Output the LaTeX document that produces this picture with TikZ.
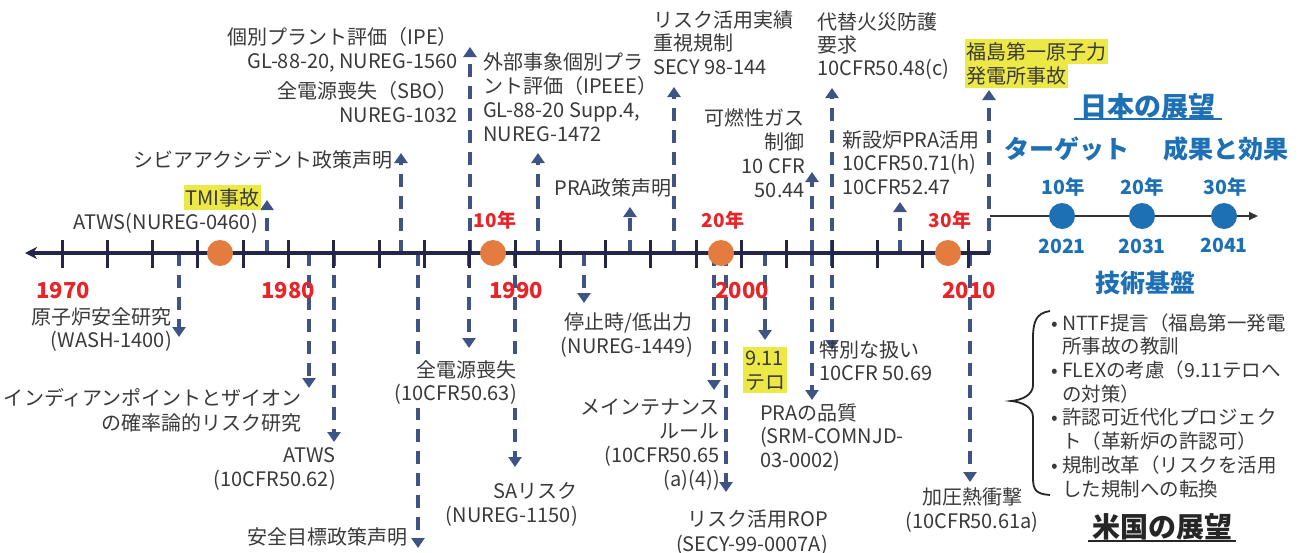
\documentclass[tikz,border=0pt]{standalone}
\usepackage{fontspec}
\setmainfont{Noto Sans CJK JP}
\usetikzlibrary{arrows.meta}
\definecolor{arrc}{RGB}{61,84,133}
\definecolor{axisc}{RGB}{35,38,72}
\definecolor{orng}{RGB}{228,124,63}
\definecolor{redc}{RGB}{233,36,40}
\definecolor{bluec}{RGB}{30,112,180}
\definecolor{hl}{RGB}{236,232,70}
\definecolor{txt}{RGB}{58,58,58}
\tikzset{
  darr/.style={draw=arrc, line width=4.3pt, dash pattern=on 13pt off 9pt, -{Triangle[width=13pt,length=10pt]}},
  lbl/.style={font=\fontsize{20}{24}\selectfont, text=txt, inner sep=0pt},
  lr/.style={lbl, align=right, anchor=base east},
  ll/.style={lbl, align=left, anchor=base west},
  lc/.style={lbl, align=center, anchor=base},
  hlbox/.style={fill=hl, inner xsep=1.5pt, inner ysep=3pt},
  redyr/.style={font=\fontsize{22}{26}\selectfont\bfseries, text=redc, inner sep=0pt},
  rednen/.style={font=\fontsize{19}{22}\selectfont\bfseries, text=redc, inner sep=0pt},
  bluet/.style={font=\fontsize{25}{30}\selectfont\bfseries, text=bluec, inner sep=0pt},
  bluesm/.style={font=\fontsize{19.5}{22}\selectfont\bfseries, text=bluec, inner sep=0pt},
  mtick/.style={draw=axisc, line width=3pt},
  odot/.style={circle, fill=orng, minimum size=26pt, inner sep=0pt},
  bdot/.style={circle, fill=bluec, minimum size=26pt, inner sep=0pt},
}
\begin{document}
\begin{tikzpicture}[x=1pt,y=-1pt]
\useasboundingbox (0,0) rectangle (1300,552);
\fill[white] (0,0) rectangle (1300,552);

% dashed arrows (up)
\foreach \n/\x/\y in {u1/267/200, u2/401/153, u3/470/47, u4/538/153, u5/630/207, u6/674/87, u7/812/172, u8/832/88, u9/900/202, u10/989/90}{
  \coordinate (\n a) at (\x,253);
  \coordinate (\n t) at (\x,\y);
  \draw[darr] (\n a) -- (\n t);
}
% dashed arrows (down)
\foreach \n/\x/\y in {d1/179/337, d2/309/388, d3/334/442, d4/418/548, d5/469/348, d6/515/467, d7/584/303, d8/714/390, d9/726/492, d10/765/340, d11/812/400, d12/832/350, d13/970/482}{
  \coordinate (\n a) at (\x,253);
  \coordinate (\n t) at (\x,\y);
  \draw[darr] (\n a) -- (\n t);
}

% main axis
\coordinate (axR) at (990,253);
\coordinate (axL) at (25,253);
\draw[axisc, line width=3.5pt, -{Stealth[length=12pt,width=12pt]}] (axR) -- (axL);
\foreach \k in {0,...,20}{
  \draw[mtick] ({62+\k*45.3},240) -- ({62+\k*45.3},268);
}
\node[odot] (c1) at (220,253) {};
\node[odot] (c2) at (493,253) {};
\node[odot] (c3) at (721,253) {};
\node[odot] (c4) at (948,253) {};

% year labels
\node[redyr] (y1970) at (63,291) {1970};
\node[redyr] (y1980) at (288,291) {1980};
\node[redyr] (y1990) at (516,291) {1990};
\node[redyr] (y2000) at (742,291) {2000};
\node[redyr] (y2010) at (969,291) {2010};
\node[rednen] (n10) at (495,220) {10年};
\node[rednen] (n20) at (723,220) {20年};
\node[rednen] (n30) at (950,220) {30年};

% upper labels (base = baseline of last line)
\node[lr, hlbox] (tmi) at (261,205) {TMI事故};
\node[lr] (atws1) at (258,229) {ATWS(NUREG-0460)};
\node[lr] (sapol) at (393,167) {シビアアクシデント政策声明};
\node[lr] (ipe) at (458,68) {個別プラント評価（IPE）\\GL-88-20, NUREG-1560};
\node[lr] (sbo) at (458,122) {全電源喪失（SBO）\\NUREG-1032};
\node[ll] (ipeee) at (483,141) {外部事象個別プラ\\ント評価（IPEEE）\\GL-88-20 Supp.4,\\NUREG-1472};
\node[lr] (prapol) at (672,195) {PRA政策声明};
\node[ll, font=\fontsize{20}{23.5}\selectfont] (secy) at (653,74) {リスク活用実績\\重視規制\\SECY 98-144};
\node[lr] (gas) at (805,197) {可燃性ガス\\制御\\10 CFR\\50.44};
\node[ll, font=\fontsize{20}{23}\selectfont] (fire) at (817,75) {代替火災防護\\要求\\10CFR50.48(c)};
\node[ll, font=\fontsize{20}{23.5}\selectfont] (newpra) at (842,194) {新設炉PRA活用\\10CFR50.71(h)\\10CFR52.47};
\node[ll, hlbox] (fk1) at (965,59) {福島第一原子力};
\node[ll, hlbox] (fk2) at (965,83) {発電所事故};

% lower labels
\node[lr, font=\fontsize{20}{23}\selectfont] (wash) at (172,347) {原子炉安全研究\\(WASH-1400)};
\node[lr, font=\fontsize{20}{25}\selectfont] (ip) at (302,430) {インディアンポイントとザイオン\\の確率論的リスク研究};
\node[lr] (atws2) at (336,486) {ATWS\\(10CFR50.62)};
\node[lr] (sgoal) at (408,544) {安全目標政策声明};
\node[lr, font=\fontsize{20}{23}\selectfont, fill=white, inner xsep=2pt, inner ysep=4pt] (sbo2) at (519,400) {全電源喪失\\(10CFR50.63)};
\node[lr] (sar) at (578,522) {SAリスク\\(NUREG-1150)};
\node[lr] (shut) at (693,353) {停止時/低出力\\(NUREG-1449)};
\node[lr, font=\fontsize{20}{23.7}\selectfont] (mr) at (720,486) {メインテナンス\\ルール\\(10CFR50.65\\(a)(4))};
\node[lr, font=\fontsize{20}{24.5}\selectfont] (rop) at (828,551) {リスク活用ROP\\(SECY-99-0007A)};
\node[ll, hlbox, inner xsep=2pt] (terr) at (743,389) {9.11\\テロ};
\node[ll, font=\fontsize{20}{23.5}\selectfont] (praq) at (760,467) {PRAの品質\\(SRM-COMNJD-\\03-0002)};
\node[ll, font=\fontsize{20}{23}\selectfont] (spec) at (819,380) {特別な扱い\\10CFR 50.69};
\node[lc] (pts) at (972,528) {加圧熱衝撃\\(10CFR50.61a)};

% right panel: Japan
\node[font=\fontsize{27}{32}\selectfont\bfseries, text=bluec, inner sep=0pt] (jp) at (1148,106) {日本の展望};
\draw[bluec, line width=2pt] ([xshift=-6pt]jp.south west) -- ([xshift=6pt]jp.south east);
\node[bluet] (tgt) at (1067,149) {ターゲット};
\node[bluet] (res) at (1226,149) {成果と効果};
\coordinate (jL) at (990,216);
\coordinate (jR) at (1258,216);
\draw[black!80, line width=2pt, -{Triangle[length=9pt,width=8pt]}] (jL) -- (jR);
\node[bdot] (b1) at (1062,216) {};
\node[bdot] (b2) at (1142,216) {};
\node[bdot] (b3) at (1224,216) {};
\node[bluesm] (b1t) at (1063,187) {10年};
\node[bluesm] (b2t) at (1142,187) {20年};
\node[bluesm] (b3t) at (1225,187) {30年};
\node[bluesm] (b1b) at (1062,246) {2021};
\node[bluesm] (b2b) at (1142,246) {2031};
\node[bluesm] (b3b) at (1224,245) {2041};
\node[bluet] (tech) at (1145,283) {技術基盤};

% right panel: US
\draw[black!85, line width=1.8pt] (1050,311) .. controls (1036,313) and (1033,322) .. (1033,338) -- (1033,385) .. controls (1033,395) and (1022,400) .. (1011,401) .. controls (1022,402) and (1033,407) .. (1033,417) -- (1033,478) .. controls (1033,490) and (1036,494) .. (1050,495);
\node[ll, font=\fontsize{19.5}{23.7}\selectfont] (uslist) at (1062,496) {\llap{•\hspace{4pt}}NTTF提言（福島第一発電\\所事故の教訓\\\llap{•\hspace{4pt}}FLEXの考慮（9.11テロへ\\の対策）\\\llap{•\hspace{4pt}}許認可近代化プロジェク\\ト（革新炉の許認可）\\\llap{•\hspace{4pt}}規制改革（リスクを活用\\した規制への転換};
\node[font=\fontsize{28}{32}\selectfont\bfseries, text=black!85, inner sep=0pt] (us) at (1162,527) {米国の展望};
\draw[black!85, line width=2pt] ([xshift=-4pt]us.south west) -- ([xshift=4pt]us.south east);
\end{tikzpicture}
\end{document}
